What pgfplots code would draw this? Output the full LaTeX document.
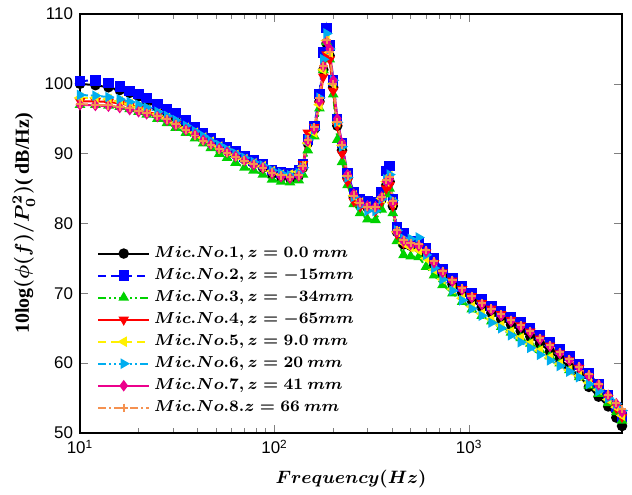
\documentclass[border=0pt]{standalone}
\usepackage{fontspec}
\setmainfont{Liberation Serif}
\setsansfont{Liberation Sans}
\usepackage{pgfplots}
\usepackage{pgfplotstable}
\pgfplotsset{compat=1.18}

\definecolor{mgreen}{RGB}{0,210,0}
\definecolor{myellow}{RGB}{255,240,0}
\definecolor{morange}{RGB}{245,145,80}

\DeclareRobustCommand\bmath[1]{\mbox{\boldmath$#1$}}

\pgfplotsset{
  longlegend/.style={
    legend image code/.code={%
      \draw[mark repeat=2,mark phase=2,##1] plot coordinates {(0cm,0cm) (0.45cm,0cm) (0.9cm,0cm)};%
    }
  }
}

% f  mic1 ... mic8
\pgfplotstableread{
f s1 s2 s3 s4 s5 s6 s7 s8
10 100.0 100.4 97.0 97.5 98.0 98.4 97.0 97.1
12 99.8 100.5 97.0 97.5 98.0 98.3 96.9 97.0
14 99.5 100.1 96.9 97.4 97.8 98.1 96.8 96.9
16 99.1 99.6 96.7 97.2 97.5 97.8 96.6 96.7
18 98.7 99.0 96.4 96.9 97.1 97.4 96.3 96.5
20 98.2 98.5 96.0 96.5 96.7 97.0 96.0 96.1
22 97.4 98.0 95.6 96.1 96.3 96.6 95.7 95.8
25 96.7 97.1 95.0 95.5 95.7 96.0 95.3 95.4
28 96.0 96.4 94.4 94.9 95.1 95.4 94.8 94.9
31 95.2 95.8 93.7 94.2 94.4 94.8 94.1 94.2
35 94.3 94.8 93.0 93.5 93.7 94.0 93.4 93.4
39 93.5 93.8 92.2 92.8 93.0 93.2 92.7 92.6
43 92.7 93.0 91.5 92.1 92.3 92.5 91.9 91.8
47 92.0 92.2 90.8 91.5 91.7 91.8 91.3 91.2
52 91.1 91.5 90.0 90.9 91.0 91.2 90.7 90.6
57 90.5 90.9 89.4 90.3 90.4 90.6 90.2 90.1
63 89.9 90.3 88.7 89.7 89.8 90.0 89.6 89.5
70 89.2 89.6 88.0 89.1 89.2 89.4 89.0 89.0
78 88.6 89.0 87.6 88.5 88.6 88.8 88.4 88.5
87 88.0 88.5 87.0 88.0 88.2 88.3 88.0 88.0
97 87.1 87.7 86.3 87.2 87.5 87.6 87.2 87.3
108 86.7 87.3 86.0 86.8 87.0 87.2 86.7 86.9
120 86.5 87.2 85.9 86.6 87.0 86.9 86.5 86.7
133 86.8 87.6 86.2 87.0 87.4 87.2 86.8 86.9
140 88.0 88.5 87.0 88.5 88.2 88.0 88.0 88.3
148 91.5 92.0 90.5 93.0 91.5 92.0 91.8 92.0
160 93.5 94.0 92.5 93.8 93.0 93.5 93.5 93.8
170 97.5 98.5 96.5 97.0 97.0 98.0 97.5 98.0
178 102.0 104.5 102.0 101.0 102.0 103.5 102.5 102.5
185 105.8 108.0 106.0 104.2 106.2 107.2 106.0 106.3
192 104.0 105.5 103.5 103.5 104.5 105.0 105.0 104.5
200 99.5 100.5 98.5 99.0 100.0 100.5 100.5 100.0
210 94.0 95.0 92.0 94.0 94.5 94.5 95.0 94.5
222 90.5 91.5 88.8 90.0 91.2 91.0 91.5 91.2
237 86.5 87.2 85.5 86.0 86.8 86.6 87.0 86.8
255 83.8 84.5 82.8 83.2 84.0 83.8 84.2 84.0
275 82.8 83.5 81.5 82.4 83.0 82.6 83.0 83.0
300 82.3 83.2 80.6 82.0 82.4 81.8 82.5 82.4
330 82.3 83.0 80.5 81.8 82.2 81.8 82.4 82.3
355 83.5 84.5 82.0 83.2 83.6 83.5 83.8 83.8
375 85.5 87.5 84.2 85.0 86.0 86.3 86.0 86.2
390 86.0 88.2 85.0 85.5 86.8 87.0 86.3 86.6
405 82.5 83.5 81.5 82.5 83.0 83.3 83.0 83.2
425 78.8 79.5 77.5 78.5 78.8 79.0 78.8 79.0
460 77.0 78.6 75.5 77.2 77.2 77.8 77.5 77.6
500 76.8 77.5 75.3 76.8 76.6 77.8 77.0 77.2
550 76.5 77.3 75.2 76.6 76.2 78.0 76.8 77.0
600 75.5 76.5 73.8 75.8 75.0 75.5 76.0 76.2
660 74.0 75.0 72.6 74.3 73.4 73.6 74.4 74.6
730 72.6 73.5 71.2 73.0 72.0 72.0 73.0 73.2
820 71.3 72.2 70.0 71.8 70.6 70.4 71.7 71.9
920 70.1 71.0 68.8 70.6 69.3 69.0 70.5 70.7
1030 69.0 70.0 67.7 69.6 68.1 67.8 69.4 69.6
1160 68.0 69.1 66.8 68.6 67.1 66.8 68.4 68.6
1300 67.2 68.2 66.0 67.8 66.3 65.8 67.6 67.8
1460 66.3 67.4 65.2 67.0 65.4 65.0 66.8 67.0
1640 65.5 66.6 64.4 66.2 64.5 64.0 66.0 66.2
1840 64.6 65.8 63.6 65.4 63.6 63.0 65.2 65.4
2060 63.8 65.0 62.8 64.5 62.8 62.2 64.4 64.6
2310 62.8 64.0 61.9 63.5 61.8 61.2 63.4 63.6
2600 61.7 63.0 61.0 62.5 60.8 60.4 62.4 62.6
2920 60.6 62.0 60.0 61.4 59.9 59.6 61.4 61.6
3270 59.4 61.0 59.0 60.4 59.0 58.8 60.4 60.6
3670 58.2 59.8 58.0 59.3 58.2 58.0 59.4 59.5
4120 56.6 58.5 56.8 58.0 57.2 57.0 58.2 58.4
4620 55.2 57.0 55.6 56.6 56.2 56.0 56.9 57.0
5180 53.8 55.4 54.3 55.0 54.8 55.0 55.4 55.5
5700 52.2 53.7 53.0 53.6 53.7 54.2 54.2 54.3
6100 51.0 52.3 51.8 52.3 52.5 53.2 53.0 53.4
}\micdata

\begin{document}
\begin{tikzpicture}
\begin{axis}[
  scale only axis,
  width=271bp, height=209.5bp,
  xmode=log,
  xmin=10, xmax=6100,
  ymin=50, ymax=110,
  ytick={50,60,...,110},
  xtick={10,100,1000},
  xticklabels={10\textsuperscript{1},10\textsuperscript{2},10\textsuperscript{3}},
  /pgf/number format/assume math mode=true,
  tick label style={font=\sffamily\fontsize{8.5}{10}\selectfont},
  tick align=inside,
  major tick length=4bp, minor tick length=2.5bp,
  axis line style={line width=0.6pt},
  xlabel={\bmath{Frequency(Hz)}},
  ylabel={\textbf{10log}\bmath{(\phi(f)/P_0^2)}\textbf{( dB/Hz)}},
  xlabel style={font=\fontsize{9.4}{11}\selectfont, yshift=-1bp},
  ylabel style={font=\fontsize{10}{12}\selectfont, yshift=-2bp},
  legend cell align=left,
  legend style={at={(0.02,0.465)}, anchor=north west, draw=none, fill=none,
    font=\fontsize{8.2}{10}\selectfont},
  longlegend,
  every axis plot/.append style={line width=1pt, mark size=2.1bp},
]
\addplot[black, mark=*, mark options={solid}] table[x=f,y=s1] {\micdata};
\addlegendentry{\bmath{Mic.No.1,z=0.0\ mm}}
\addplot[blue, dash pattern=on 4pt off 2.5pt, mark=square*, mark options={solid}] table[x=f,y=s2] {\micdata};
\addlegendentry{\bmath{Mic.No.2,z=-15mm}}
\addplot[mgreen, dash pattern=on 4pt off 1.5pt on 1pt off 1.5pt on 1pt off 1.5pt, mark=triangle*, mark options={solid}] table[x=f,y=s3] {\micdata};
\addlegendentry{\bmath{Mic.No.3,z=-34mm}}
\addplot[red, mark=triangle*, mark options={solid, rotate=180}] table[x=f,y=s4] {\micdata};
\addlegendentry{\bmath{Mic.No.4,z=-65mm}}
\addplot[myellow, dash pattern=on 4pt off 2.5pt, mark=triangle*, mark options={solid, rotate=90}] table[x=f,y=s5] {\micdata};
\addlegendentry{\bmath{Mic.No.5,z=9.0\ mm}}
\addplot[cyan, dash pattern=on 4pt off 1.5pt on 1pt off 1.5pt on 1pt off 1.5pt, mark=triangle*, mark options={solid, rotate=-90}] table[x=f,y=s6] {\micdata};
\addlegendentry{\bmath{Mic.No.6,z=20\ mm}}
\addplot[magenta, mark=diamond*, mark options={solid}] table[x=f,y=s7] {\micdata};
\addlegendentry{\bmath{Mic.No.7,z=41\ mm}}
\addplot[morange, dash pattern=on 4pt off 1.5pt on 1pt off 1.5pt, mark=+, mark options={solid}] table[x=f,y=s8] {\micdata};
\addlegendentry{\bmath{Mic.No.8.z=66\ mm}}
\end{axis}
\path ([xshift=-40bp,yshift=7bp]current axis.north west) rectangle ([xshift=5bp,yshift=-29.5bp]current axis.south east);
\end{tikzpicture}
\end{document}
